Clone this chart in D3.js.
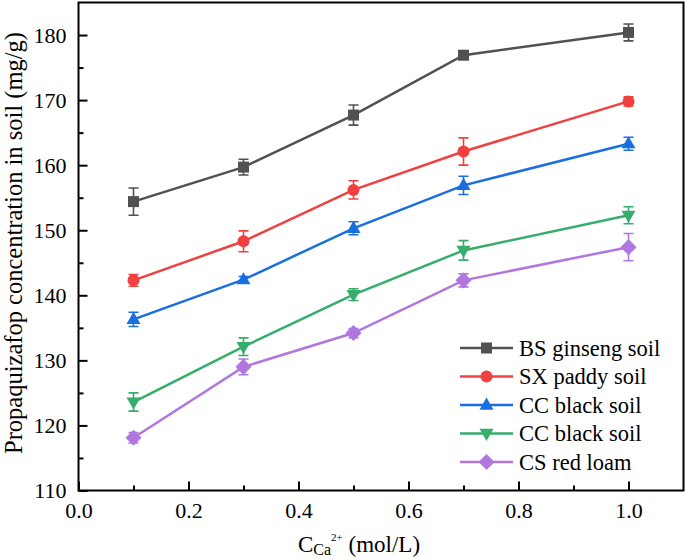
<!DOCTYPE html>
<html><head><meta charset="utf-8">
<script src="https://cdn.jsdelivr.net/npm/d3@7"></script>
<style>body{margin:0;background:#fff}svg{display:block}</style>
</head><body><svg id="c" width="685" height="559"></svg>
<script>
const xValues = [0.1, 0.3, 0.5, 0.7, 1.0];
const seriesNames = ["BS ginseng soil", "SX paddy soil", "CC black soil", "CC black soil", "CS red loam"];
const bsValues = [154.4, 159.7, 167.7, 176.9, 180.4];
const bsErr = [2.1, 1.2, 1.55, 0.4, 1.3];
const sxValues = [142.3, 148.3, 156.2, 162.1, 169.8];
const sxErr = [0.9, 1.6, 1.4, 2.1, 0.7];
const cc1Values = [136.3, 142.4, 150.3, 156.9, 163.3];
const cc1Err = [1.1, 0.5, 1.0, 1.4, 1.0];
const cc2Values = [123.6, 132.1, 140.1, 146.9, 152.3];
const cc2Err = [1.4, 1.35, 0.9, 1.5, 1.3];
const csValues = [118.1, 129.0, 134.2, 142.3, 147.4];
const csErr = [0.8, 1.2, 0.7, 1.0, 2.1];
const xTicks = [0, 0.2, 0.4, 0.6, 0.8, 1.0];
const yTicks = [110, 120, 130, 140, 150, 160, 170, 180];

const colors = ["#515151", "#F14040", "#1A6FDF", "#37AD6B", "#B177DE"];
const shapes = ["square", "circle", "triangle", "down", "diamond"];
const allValues = [bsValues, sxValues, cc1Values, cc2Values, csValues];
const allErr = [bsErr, sxErr, cc1Err, cc2Err, csErr];
const FONT = "Liberation Serif";

const svg = d3.select("#c");
const L = 78.5, R = 683.5, T = 2.5, B = 490.5;
const x = d3.scaleLinear().domain([0, 1.1]).range([L, R]);
const y = d3.scaleLinear().domain([110, 185]).range([B, T]);

function marker(shape, s) {
  if (shape === "square") return `M${-s/2},${-s/2}h${s}v${s}h${-s}Z`;
  if (shape === "circle") { const r = s/2; return `M${r},0A${r},${r} 0 1,1 ${-r},0A${r},${r} 0 1,1 ${r},0Z`; }
  if (shape === "triangle") { const h = s*0.87; return `M0,${-h*0.62}L${s/2},${h*0.38}L${-s/2},${h*0.38}Z`; }
  if (shape === "down") { const h = s*0.87; return `M0,${h*0.62}L${s/2},${-h*0.38}L${-s/2},${-h*0.38}Z`; }
  if (shape === "diamond") { const d = s*0.62; return `M0,${-d}L${d},0L0,${d}L${-d},0Z`; }
}
const sizes = [11, 12, 14, 14, 13];

svg.append("rect").attr("x", L).attr("y", T).attr("width", R - L).attr("height", B - T)
  .attr("fill", "none").attr("stroke", "#000").attr("stroke-width", 2);

function styleAxis(g) {
  g.attr("font-family", FONT);
  g.select(".domain").remove();
  g.selectAll("line").attr("stroke", "#000").attr("stroke-width", 2);
  g.selectAll("text").attr("font-size", 22).attr("fill", "#000").attr("font-family", FONT);
}

const gy = svg.append("g").attr("transform", `translate(${L},0)`)
  .call(d3.axisLeft(y).tickValues(yTicks).tickSize(-9).tickPadding(12).tickFormat(d3.format("d")));
styleAxis(gy);
const gym = svg.append("g").attr("transform", `translate(${L},0)`)
  .call(d3.axisLeft(y).tickValues(d3.range(115, 185, 10)).tickSize(-5).tickFormat(""));
styleAxis(gym);

const gx = svg.append("g").attr("transform", `translate(0,${B})`)
  .call(d3.axisBottom(x).tickValues(xTicks).tickSize(-9).tickPadding(12).tickFormat(d3.format(".1f")));
styleAxis(gx);
const gxm = svg.append("g").attr("transform", `translate(0,${B})`)
  .call(d3.axisBottom(x).tickValues([0.1, 0.3, 0.5, 0.7, 0.9]).tickSize(-5).tickFormat(""));
styleAxis(gxm);

svg.append("text").attr("transform", `translate(22,243) rotate(-90)`)
  .attr("text-anchor", "middle").attr("font-size", 24.5).attr("fill", "#000").attr("font-family", FONT)
  .text("Propaquizafop concentration in soil (mg/g)");

const xt = svg.append("text").attr("x", 359).attr("y", 552).attr("text-anchor", "middle")
  .attr("font-size", 23).attr("fill", "#000").attr("font-family", FONT);
xt.append("tspan").text("C");
xt.append("tspan").attr("font-size", 16).attr("dy", 3).text("Ca");
xt.append("tspan").attr("font-size", 11).attr("dy", -14).text("2+");
xt.append("tspan").attr("dy", 11).text(" (mol/L)");

const line = d3.line().x(d => x(d[0])).y(d => y(d[1]));
allValues.forEach((vals, i) => {
  const pts = xValues.map((xv, j) => [xv, vals[j], allErr[i][j]]);
  const g = svg.append("g");
  g.append("path").attr("d", line(pts)).attr("fill", "none").attr("stroke", colors[i]).attr("stroke-width", 2.5);
  pts.forEach(p => {
    const cx = x(p[0]), y1 = y(p[1] + p[2]), y2 = y(p[1] - p[2]);
    g.append("path").attr("d", `M${cx},${y1}V${y2}M${cx-5},${y1}H${cx+5}M${cx-5},${y2}H${cx+5}`)
      .attr("stroke", colors[i]).attr("stroke-width", 1.6).attr("fill", "none");
  });
  g.selectAll(".m").data(pts).join("path")
    .attr("transform", d => `translate(${x(d[0])},${y(d[1])})`)
    .attr("d", marker(shapes[i], sizes[i])).attr("fill", colors[i]);
});

const lg = svg.append("g");
seriesNames.forEach((name, i) => {
  const ly = 348 + i * 28.5;
  lg.append("line").attr("x1", 460).attr("x2", 513).attr("y1", ly).attr("y2", ly)
    .attr("stroke", colors[i]).attr("stroke-width", 2.5);
  lg.append("path").attr("transform", `translate(486.5,${ly})`).attr("d", marker(shapes[i], sizes[i]))
    .attr("fill", colors[i]);
  lg.append("text").attr("x", 519).attr("y", ly + 7.5).attr("font-size", 22.5).attr("fill", "#000")
    .attr("font-family", FONT).text(name);
});
</script></body></html>
